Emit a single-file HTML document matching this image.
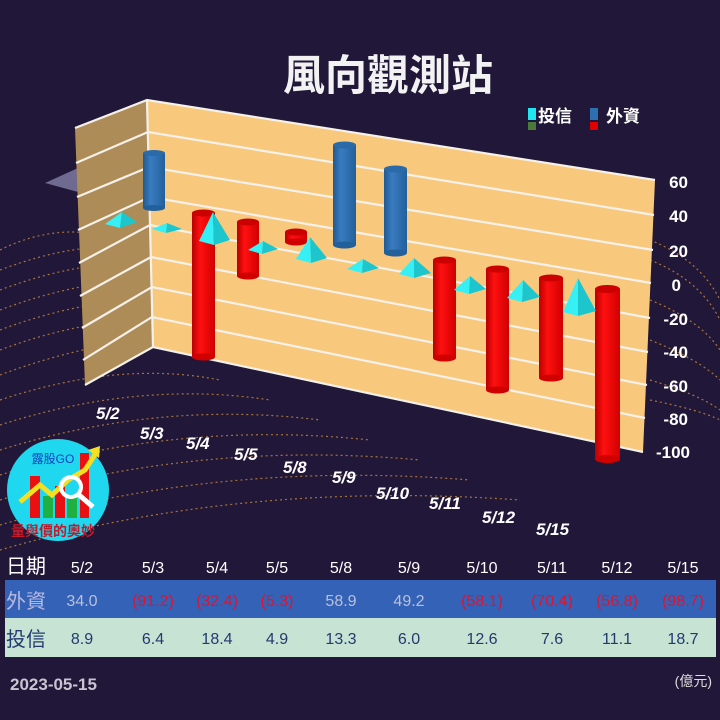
<!DOCTYPE html>
<html><head><meta charset="utf-8"><style>
html,body{margin:0;padding:0;background:#211738;}
svg{display:block}
text{font-family:"Liberation Sans","Noto Sans CJK TC",sans-serif}
</style></head><body>
<svg width="720" height="720" viewBox="0 0 720 720" xmlns="http://www.w3.org/2000/svg">
<defs>
<linearGradient id="red" x1="0" x2="1"><stop offset="0" stop-color="#b80000"/><stop offset="0.35" stop-color="#ff1010"/><stop offset="1" stop-color="#d00000"/></linearGradient>
<linearGradient id="blue" x1="0" x2="1"><stop offset="0" stop-color="#1f5a92"/><stop offset="0.35" stop-color="#3a7cc0"/><stop offset="1" stop-color="#22609c"/></linearGradient>
</defs>
<rect width="720" height="720" fill="#211738"/>
<g fill="none" stroke="#c98a3a" stroke-width="1.2" stroke-dasharray="2 3" opacity="0.8">
<path d="M0 250 Q60 220 120 240"/>
<path d="M0 270 Q80 240 130 250"/>
<path d="M0 290 Q80 260 140 265"/>
<path d="M0 310 Q80 280 150 280"/>
<path d="M0 330 Q80 300 150 300"/>
<path d="M0 350 Q80 320 150 320"/>
<path d="M0 375 Q80 345 150 340"/>
<path d="M0 400 Q120 360 220 380"/>
<path d="M0 425 Q140 380 270 400"/>
<path d="M0 450 Q160 400 320 420"/>
<path d="M0 475 Q180 420 370 440"/>
<path d="M0 500 Q200 440 420 460"/>
<path d="M0 525 Q220 460 470 480"/>
<path d="M0 550 Q240 480 520 500"/>
<path d="M650 240 Q700 260 720 300"/>
<path d="M650 260 Q700 280 720 320"/>
<path d="M650 300 Q700 320 720 350"/>
<path d="M650 340 Q700 360 720 380"/>
<path d="M650 380 Q700 395 720 410"/>
<path d="M650 400 Q700 410 720 420"/>
</g>
<text x="388" y="90" text-anchor="middle" font-size="42" font-weight="bold" fill="#f2f2f2">風向觀測站</text>
<rect x="528" y="108" width="8" height="12" fill="#1fe6f0"/>
<rect x="528" y="122" width="8" height="8" fill="#4a7a3a"/>
<text x="538" y="122" font-size="17" font-weight="bold" fill="#fff">投信</text>
<rect x="590" y="108" width="8" height="12" fill="#2d6fb0"/>
<rect x="590" y="122" width="8" height="8" fill="#e00000"/>
<text x="606" y="122" font-size="17" font-weight="bold" fill="#fff">外資</text>
<polygon points="45,183 78,168 78,192" fill="#6f6a90"/>
<polygon points="75,128 147,100 153,347 85,385" fill="#ae8c58"/>
<polygon points="147,100 655,180 643,452 153,347" fill="#f8c97c"/>
<g stroke="#f4f0ea" stroke-width="2.2" fill="none">
<path d="M75,128 L147,100 L655,180"/>
<path d="M76,163 L148,132 L654,215"/>
<path d="M77,197 L149,167 L653,250"/>
<path d="M78,230 L150,197 L651,283"/>
<path d="M79,263 L150,225 L650,318"/>
<path d="M80,296 L151,257 L648,352"/>
<path d="M82,328 L152,287 L647,385"/>
<path d="M83,360 L152,317 L645,418"/>
<path d="M85,385 L153,347 L643,452"/>
<path d="M147,100 L153,347"/>
</g>
<g font-size="17" font-weight="bold" fill="#fff" text-anchor="end">
<text x="688" y="188">60</text><text x="688" y="222">40</text><text x="688" y="257">20</text>
<text x="681" y="291">0</text><text x="688" y="325">-20</text><text x="688" y="358">-40</text>
<text x="688" y="392">-60</text><text x="688" y="425">-80</text><text x="690" y="458">-100</text>
</g>
<g>
<rect x="143" y="153" width="22" height="55" fill="url(#blue)"/><ellipse cx="154" cy="208" rx="11" ry="3" fill="#22609c"/><ellipse cx="154" cy="153" rx="11" ry="3" fill="#2a6aa8"/>
<rect x="192" y="213" width="23" height="144" fill="url(#red)"/><ellipse cx="203.5" cy="357" rx="11.5" ry="3.5" fill="#d00000"/><ellipse cx="203.5" cy="213" rx="11.5" ry="3.5" fill="#cc0000"/>
<rect x="237" y="222" width="22" height="54" fill="url(#red)"/><ellipse cx="248" cy="276" rx="11" ry="3.5" fill="#d00000"/><ellipse cx="248" cy="222" rx="11" ry="3.5" fill="#cc0000"/>
<rect x="285" y="232" width="22" height="10" fill="url(#red)"/><ellipse cx="296" cy="242" rx="11" ry="3.5" fill="#d00000"/><ellipse cx="296" cy="232" rx="11" ry="3.5" fill="#cc0000"/>
<rect x="333" y="145" width="23" height="100" fill="url(#blue)"/><ellipse cx="344.5" cy="245" rx="11.5" ry="3.5" fill="#22609c"/><ellipse cx="344.5" cy="145" rx="11.5" ry="3.5" fill="#2a6aa8"/>
<rect x="384" y="169" width="23" height="84" fill="url(#blue)"/><ellipse cx="395.5" cy="253" rx="11.5" ry="3.5" fill="#22609c"/><ellipse cx="395.5" cy="169" rx="11.5" ry="3.5" fill="#2a6aa8"/>
<rect x="433" y="260" width="23" height="98" fill="url(#red)"/><ellipse cx="444.5" cy="358" rx="11.5" ry="3.5" fill="#d00000"/><ellipse cx="444.5" cy="260" rx="11.5" ry="3.5" fill="#cc0000"/>
<rect x="486" y="269" width="23" height="121" fill="url(#red)"/><ellipse cx="497.5" cy="390" rx="11.5" ry="3.5" fill="#d00000"/><ellipse cx="497.5" cy="269" rx="11.5" ry="3.5" fill="#cc0000"/>
<rect x="539" y="278" width="24" height="100" fill="url(#red)"/><ellipse cx="551" cy="378" rx="12" ry="3.5" fill="#d00000"/><ellipse cx="551" cy="278" rx="12" ry="3.5" fill="#cc0000"/>
<rect x="595" y="289" width="25" height="170" fill="url(#red)"/><ellipse cx="607.5" cy="459" rx="12.5" ry="4" fill="#d00000"/><ellipse cx="607.5" cy="289" rx="12.5" ry="4" fill="#cc0000"/>
</g>
<g>
<polygon points="122,212 105,224 120,228" fill="#35f0f5"/><polygon points="122,212 120,228 137,222" fill="#1cc6cc"/>
<polygon points="167,223 152,229 166,233" fill="#35f0f5"/><polygon points="167,223 166,233 182,229" fill="#1cc6cc"/>
<polygon points="213,212 199,241 214,245" fill="#35f0f5"/><polygon points="213,212 214,245 230,240" fill="#1cc6cc"/>
<polygon points="263,241 248,250 262,254" fill="#35f0f5"/><polygon points="263,241 262,254 278,249" fill="#1cc6cc"/>
<polygon points="310,237 296,259 311,263" fill="#35f0f5"/><polygon points="310,237 311,263 327,258" fill="#1cc6cc"/>
<polygon points="363,259 347,269 362,273" fill="#35f0f5"/><polygon points="363,259 362,273 379,268" fill="#1cc6cc"/>
<polygon points="414,258 399,274 414,278" fill="#35f0f5"/><polygon points="414,258 414,278 431,273" fill="#1cc6cc"/>
<polygon points="470,276 454,290 469,294" fill="#35f0f5"/><polygon points="470,276 469,294 486,289" fill="#1cc6cc"/>
<polygon points="523,280 507,298 522,302" fill="#35f0f5"/><polygon points="523,280 522,302 540,297" fill="#1cc6cc"/>
<polygon points="578,278 563,312 578,316" fill="#35f0f5"/><polygon points="578,278 578,316 596,311" fill="#1cc6cc"/>
</g>
<g font-size="17" font-weight="bold" font-style="italic" fill="#fff">
<text x="96" y="419">5/2</text><text x="140" y="439">5/3</text><text x="186" y="449">5/4</text>
<text x="234" y="460">5/5</text><text x="283" y="473">5/8</text><text x="332" y="483">5/9</text>
<text x="376" y="499">5/10</text><text x="429" y="509">5/11</text><text x="482" y="523">5/12</text>
<text x="536" y="535">5/15</text>
</g>
<circle cx="58" cy="490" r="51" fill="#1fd7ef"/>
<rect x="30" y="476" width="10" height="42" fill="#e81010"/>
<rect x="43" y="496" width="10" height="22" fill="#1eb040"/>
<rect x="55" y="486" width="10" height="32" fill="#e81010"/>
<rect x="67" y="498" width="10" height="20" fill="#1eb040"/>
<rect x="80" y="453" width="9" height="65" fill="#e81010"/>
<polyline points="20,502 40,485 52,495 68,480 85,470 98,450" fill="none" stroke="#f4e020" stroke-width="5"/>
<polygon points="100,446 88,450 99,458" fill="#f4e020"/>
<circle cx="71" cy="487" r="10" fill="none" stroke="#fff" stroke-width="4"/>
<line x1="78" y1="494" x2="93" y2="507" stroke="#fff" stroke-width="5"/>
<text x="53" y="463" font-size="12" fill="#1542c0" text-anchor="middle">露股GO</text>
<text x="53" y="536" font-size="14" font-weight="bold" fill="#c21a2a" text-anchor="middle">量與價的奧妙</text>
<g font-size="16" text-anchor="middle" fill="#fff">
<text x="26" y="573" font-size="20" text-anchor="middle">日期</text>
<text x="82" y="573">5/2</text><text x="153" y="573">5/3</text><text x="217" y="573">5/4</text><text x="277" y="573">5/5</text><text x="341" y="573">5/8</text>
<text x="409" y="573">5/9</text><text x="482" y="573">5/10</text><text x="552" y="573">5/11</text><text x="617" y="573">5/12</text><text x="683" y="573">5/15</text>
</g>
<rect x="5" y="580" width="711" height="38" fill="#3462b6"/>
<rect x="5" y="618" width="711" height="39" fill="#c6e3d3"/>
<g font-size="16" text-anchor="middle">
<text x="26" y="608" font-size="20" fill="#b8b8e0">外資</text>
<text x="82" y="606" fill="#b9c0dc">34.0</text><text x="153" y="606" fill="#e8102a">(91.2)</text><text x="217" y="606" fill="#e8102a">(32.4)</text>
<text x="277" y="606" fill="#e8102a">(5.3)</text><text x="341" y="606" fill="#b9c0dc">58.9</text><text x="409" y="606" fill="#b9c0dc">49.2</text>
<text x="482" y="606" fill="#e8102a">(58.1)</text><text x="552" y="606" fill="#e8102a">(70.4)</text><text x="617" y="606" fill="#e8102a">(56.8)</text><text x="683" y="606" fill="#e8102a">(98.7)</text>
<text x="26" y="646" font-size="20" fill="#233a70">投信</text>
<g fill="#233a70">
<text x="82" y="644">8.9</text><text x="153" y="644">6.4</text><text x="217" y="644">18.4</text><text x="277" y="644">4.9</text><text x="341" y="644">13.3</text>
<text x="409" y="644">6.0</text><text x="482" y="644">12.6</text><text x="552" y="644">7.6</text><text x="617" y="644">11.1</text><text x="683" y="644">18.7</text>
</g>
</g>
<text x="10" y="690" font-size="17" font-weight="bold" fill="#c8c4d0">2023-05-15</text>
<text x="712" y="686" font-size="14" fill="#ddd" text-anchor="end">(億元)</text>
</svg>
</body></html>
